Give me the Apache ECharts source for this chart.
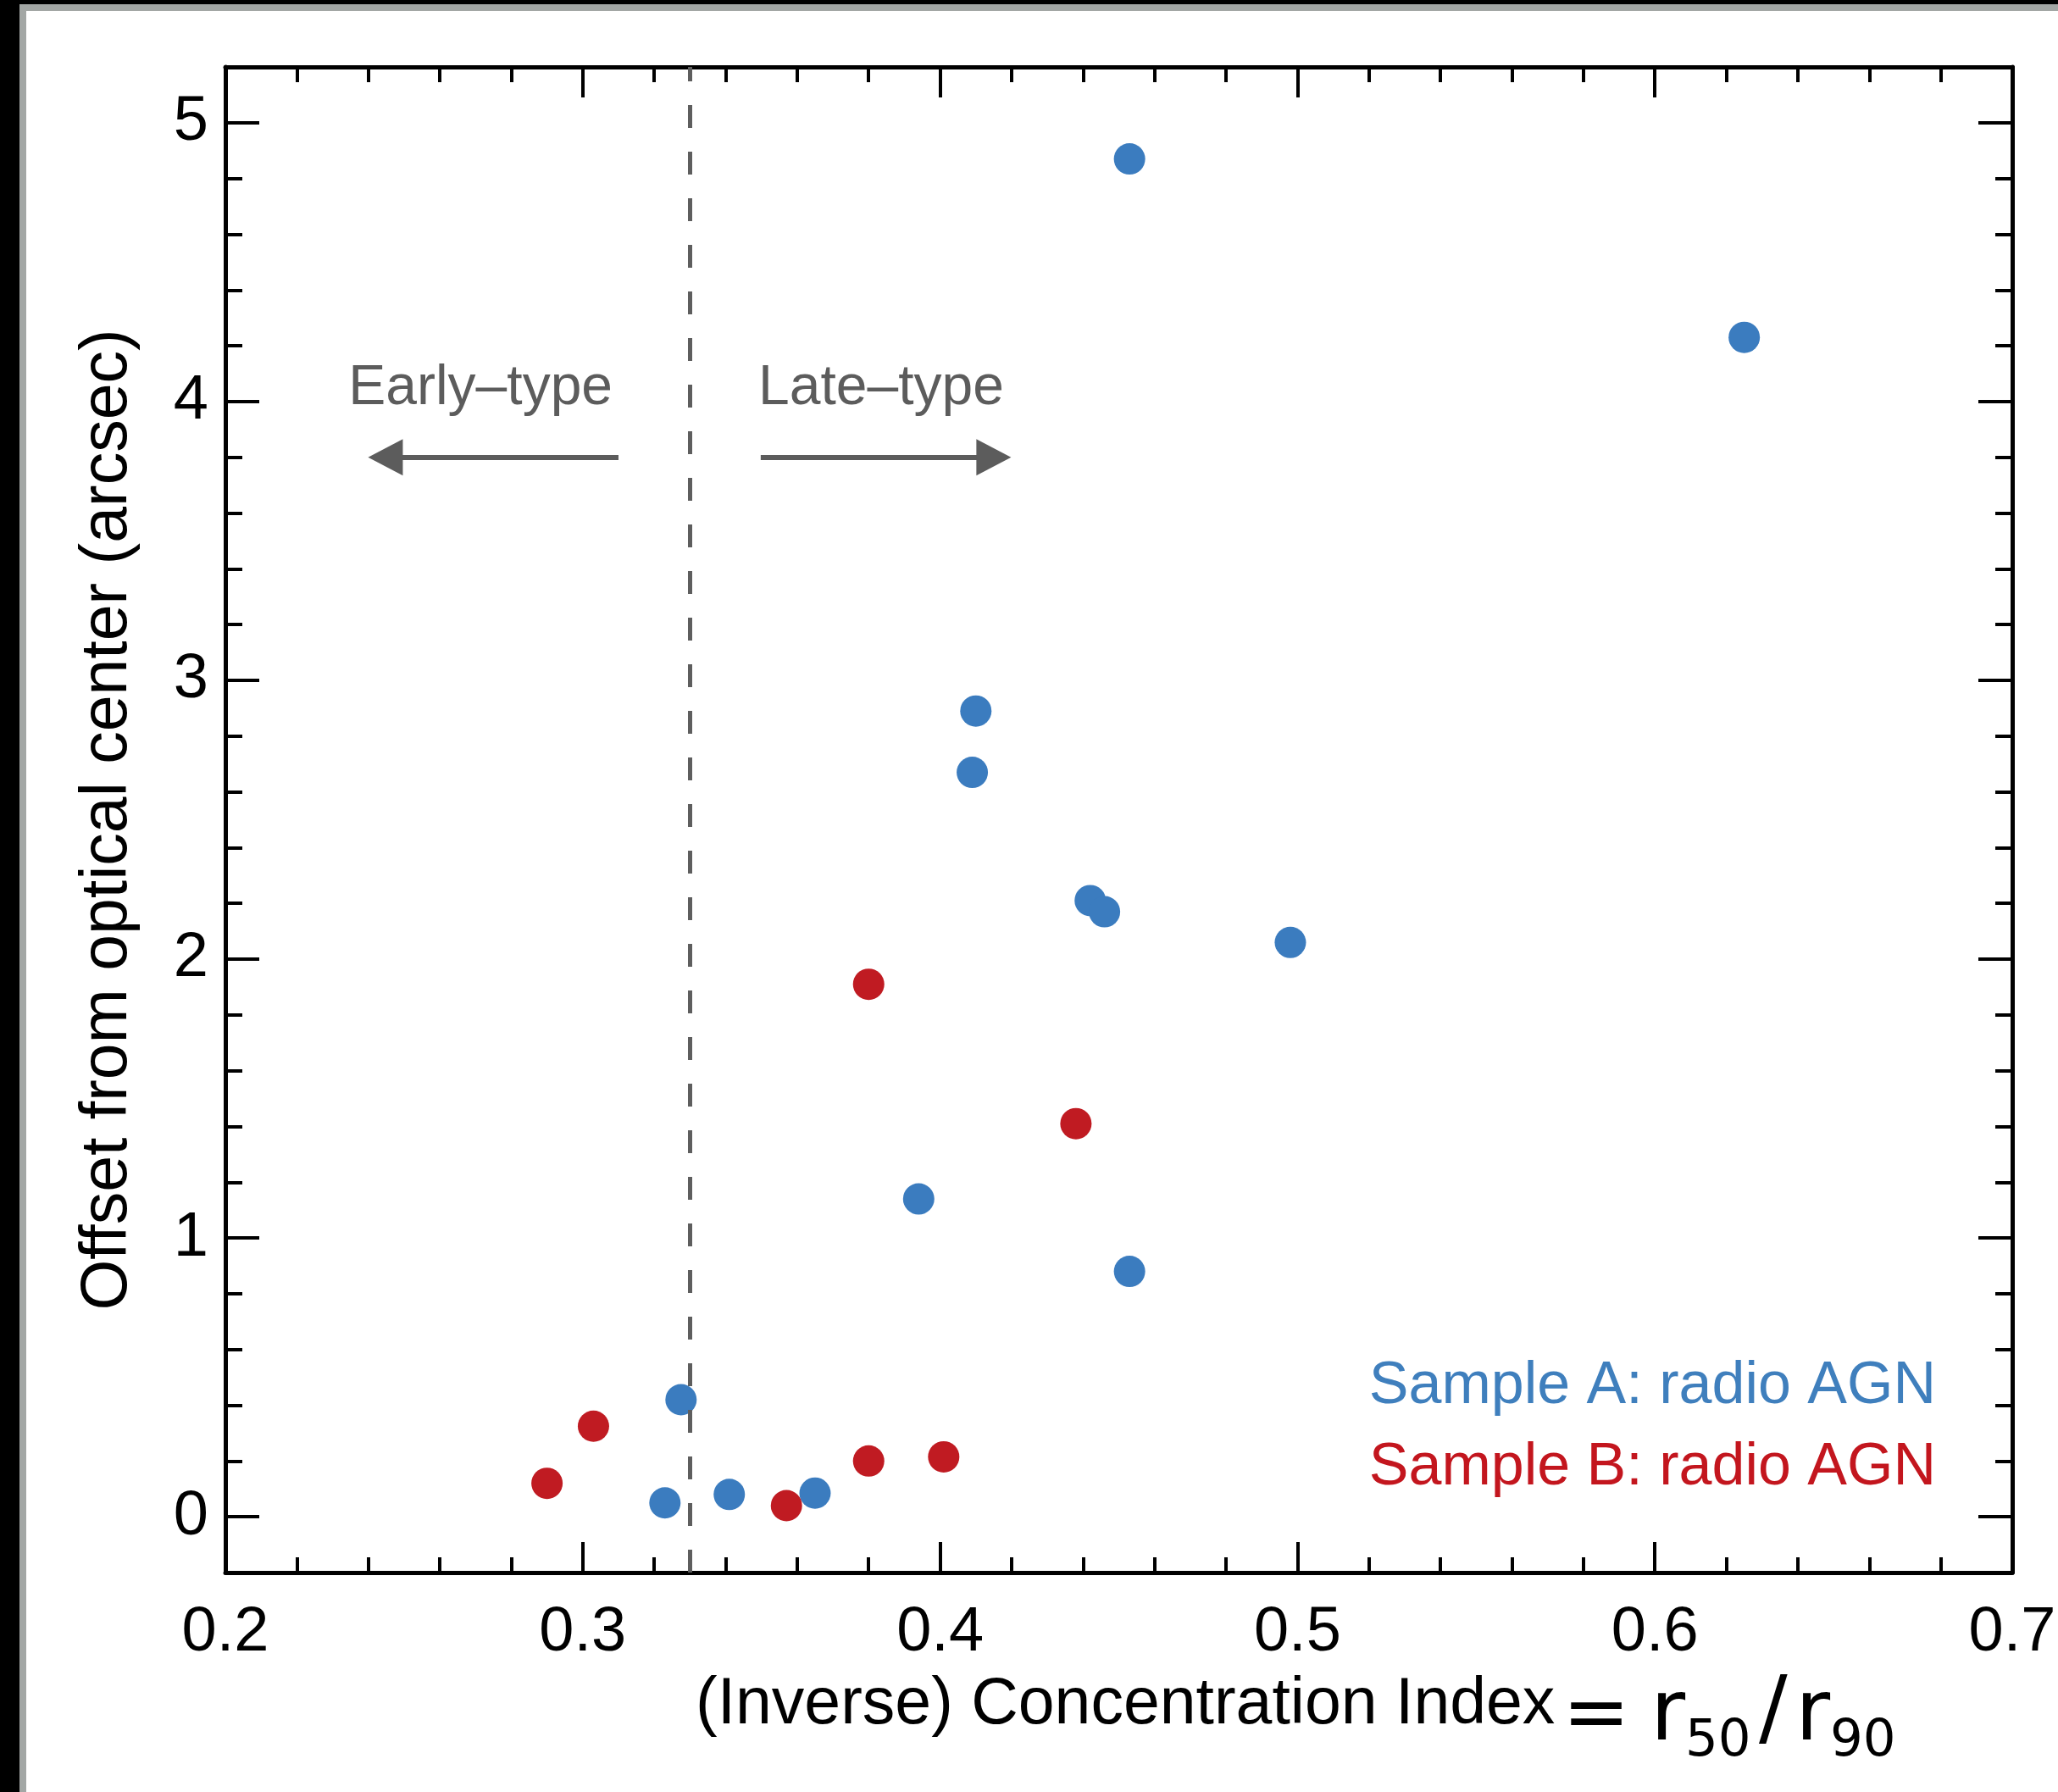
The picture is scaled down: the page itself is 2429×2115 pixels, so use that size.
<!DOCTYPE html>
<html>
<head>
<meta charset="utf-8">
<script src="https://cdn.jsdelivr.net/npm/echarts@6/dist/echarts.min.js"></script>
<style>
  html, body { margin: 0; padding: 0; background: #fff; }
  #chart { width: 2429px; height: 2115px; }
</style>
</head>
<body>
<div id="chart"></div>
<script>
// sample A (blue) : concentration index, offset (arcsec)
var sampleA_x = [0.453, 0.625, 0.410, 0.409, 0.442, 0.446, 0.498, 0.394, 0.453, 0.3275, 0.323, 0.341, 0.365];
var sampleA_y = [4.87, 4.23, 2.89, 2.67, 2.21, 2.17, 2.06, 1.14, 0.88, 0.42, 0.05, 0.08, 0.085];
// sample B (red)
var sampleB_x = [0.380, 0.438, 0.303, 0.290, 0.380, 0.401, 0.357];
var sampleB_y = [1.91, 1.41, 0.325, 0.12, 0.20, 0.215, 0.04];

var xTicks = [0.2, 0.3, 0.4, 0.5, 0.6, 0.7];
var yTicks = [0, 1, 2, 3, 4, 5];
var splitX = 0.33; // early / late type divide

var seriesNames = ["Sample A: radio AGN", "Sample B: radio AGN"];
var blue = "#3b7cbf";
var red = "#c01b22";
var grey = "#5c5c5c";
var font = "Liberation Sans";

function pairs(xs, ys) {
  var out = [];
  for (var i = 0; i < xs.length; i++) out.push([xs[i], ys[i]]);
  return out;
}

var myChart = echarts.init(document.getElementById("chart"));

var tickLine = { color: "#000", width: 4 };
var axisLine = { show: true, onZero: false, lineStyle: { color: "#000", width: 5 } };
var noLine = { show: false, onZero: false };

function txt(x, y, s, f, align) {
  return {
    type: "text", x: x, y: y,
    style: { text: s, font: f, fill: "#000", align: align, verticalAlign: "middle", textAlign: align, textVerticalAlign: "middle" },
  };
}

var option = {
  animation: false,
  backgroundColor: "#fff",
  grid: { left: 266, right: 54, top: 79, bottom: 259, containLabel: false, outerBoundsMode: "none" },
  legend: {
    orient: "vertical",
    right: 139,
    top: 1597,
    itemGap: 26,
    icon: "none",
    itemWidth: 0,
    itemHeight: 20,
    textStyle: { fontSize: 70, fontFamily: font },
    data: [
      { name: seriesNames[0], textStyle: { color: "#3f7fbd" } },
      { name: seriesNames[1], textStyle: { color: "#c3161e" } },
    ],
  },
  xAxis: [
    {
      type: "value",
      position: "bottom",
      min: 0.2,
      max: 0.7,
      interval: 0.1,
      axisLine: axisLine,
      axisTick: { inside: true, length: 36, lineStyle: tickLine },
      minorTick: { show: true, splitNumber: 5, length: 18, lineStyle: tickLine },
      splitLine: { show: false },
      axisLabel: {
        fontSize: 74,
        fontFamily: font,
        color: "#000",
        margin: 35,
        customValues: xTicks,
        formatter: function (v) { return v.toFixed(1); },
      },
    },
    {
      type: "value",
      position: "top",
      min: 0.2,
      max: 0.7,
      interval: 0.1,
      axisLine: axisLine,
      axisTick: { inside: true, length: 36, lineStyle: tickLine },
      minorTick: { show: true, splitNumber: 5, length: 18, lineStyle: tickLine },
      splitLine: { show: false },
      axisLabel: { show: false },
    },
  ],
  yAxis: [
    {
      type: "value",
      position: "left",
      min: -0.2,
      max: 5.2,
      interval: 0.2,
      name: "Offset from optical center (arcsec)",
      nameLocation: "middle",
      nameGap: 100,
      nameTextStyle: { fontSize: 77, fontFamily: font, color: "#000" },
      axisLine: axisLine,
      axisTick: { inside: true, length: 20, lineStyle: tickLine },
      splitLine: { show: false },
      axisLabel: {
        fontSize: 74,
        fontFamily: font,
        color: "#000",
        margin: 20,
        customValues: yTicks,
      },
    },
    {
      type: "value",
      position: "left",
      min: -0.2,
      max: 5.2,
      interval: 0.2,
      axisLine: noLine,
      axisTick: { inside: true, length: 40, lineStyle: tickLine, customValues: yTicks },
      splitLine: { show: false },
      axisLabel: { show: false },
    },
    {
      type: "value",
      position: "right",
      min: -0.2,
      max: 5.2,
      interval: 0.2,
      axisLine: axisLine,
      axisTick: { inside: true, length: 20, lineStyle: tickLine },
      splitLine: { show: false },
      axisLabel: { show: false },
    },
    {
      type: "value",
      position: "right",
      min: -0.2,
      max: 5.2,
      interval: 0.2,
      axisLine: noLine,
      axisTick: { inside: true, length: 40, lineStyle: tickLine, customValues: yTicks },
      splitLine: { show: false },
      axisLabel: { show: false },
    },
  ],
  graphic: [
    // frame of the original figure
    { type: "rect", shape: { x: 0, y: 0, width: 2429, height: 5 }, style: { fill: "#000" } },
    { type: "rect", shape: { x: 23, y: 5, width: 2406, height: 8 }, style: { fill: "#a3a7a5" } },
    { type: "rect", shape: { x: 23, y: 5, width: 8, height: 2110 }, style: { fill: "#a3a7a5" } },
    { type: "rect", shape: { x: 0, y: 0, width: 23, height: 2115 }, style: { fill: "#000" } },
    // x axis title:  ... = r50/r90
    txt(821, 2013, "(Inverse) Concentration Index", '77px "Liberation Sans"', "left"),
    txt(1884, 2027, "=", '95px "DejaVu Sans"', "center"),
    txt(1948, 2027, "r", '100px "DejaVu Sans"', "left"),
    txt(1989, 2056, "50", '61px "DejaVu Sans"', "left"),
    txt(2076, 2023, "/", '100px "DejaVu Sans"', "left"),
    txt(2119, 2027, "r", '100px "DejaVu Sans"', "left"),
    txt(2160, 2056, "90", '61px "DejaVu Sans"', "left"),
  ],
  series: [
    {
      name: "divide",
      type: "scatter",
      data: [],
      silent: true,
      markLine: {
        silent: true,
        symbol: "none",
        label: { show: false },
        lineStyle: { color: "#5e5e5e", width: 5, type: [27, 28] },
        data: [{ xAxis: splitX }],
      },
    },
    {
      name: "arrows",
      type: "scatter",
      data: [],
      silent: true,
      markLine: {
        silent: true,
        symbol: ["none", "triangle"],
        symbolSize: [43, 41],
        label: { show: false },
        data: [
          [{ coord: [0.31, 3.8] }, { coord: [0.2448, 3.8] }],
          [{ coord: [0.3498, 3.8] }, { coord: [0.415, 3.8] }],
        ],
        lineStyle: { color: grey, width: 6, type: "solid" },
      },
      markPoint: {
        silent: true,
        symbol: "circle",
        symbolSize: 0,
        label: {
          show: true,
          position: "inside",
          fontSize: 66,
          fontFamily: font,
          color: grey,
          formatter: function (p) { return p.name; },
        },
        data: [
          { name: "Early\u2013type", coord: [0.2714, 4.047] },
          { name: "Late\u2013type", coord: [0.3835, 4.047] },
        ],
      },
    },
    {
      name: seriesNames[0],
      type: "scatter",
      symbolSize: 37,
      itemStyle: { color: blue, opacity: 1 },
      data: pairs(sampleA_x, sampleA_y),
    },
    {
      name: seriesNames[1],
      type: "scatter",
      symbolSize: 37,
      itemStyle: { color: red, opacity: 1 },
      data: pairs(sampleB_x, sampleB_y),
    },
  ],
};

myChart.setOption(option);
window.addEventListener("resize", myChart.resize);
</script>
</body>
</html>
